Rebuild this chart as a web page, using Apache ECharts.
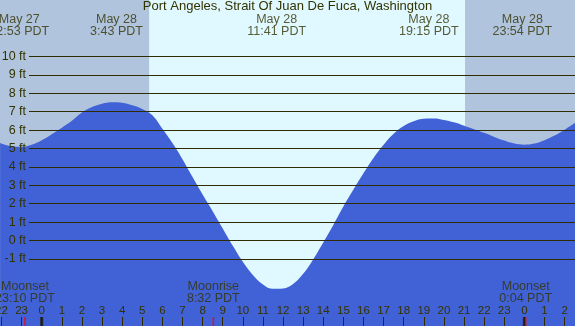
<!DOCTYPE html>
<html>
<head>
<meta charset="utf-8">
<script src="https://cdn.jsdelivr.net/npm/echarts@6/dist/echarts.min.js"></script>
<style>html,body{margin:0;padding:0;background:#b0c4de;}#c{width:575px;height:326px;}</style>
</head>
<body>
<div id="c"></div>
<script>
const tideHours = [-2.07, -1.5, -1.0, -0.5, 0, 0.5, 1.0, 1.5, 2.0, 2.5, 3.0, 3.5, 4.0, 4.5, 5.0, 5.5, 6.0, 6.5, 7.0, 7.5, 8.0, 8.5, 9.0, 9.5, 10.0, 10.5, 11.0, 11.5, 12.0, 12.5, 13.0, 13.5, 14.0, 14.5, 15.0, 15.5, 16.0, 16.5, 17.0, 17.5, 18.0, 18.5, 19.0, 19.5, 20.0, 20.5, 21.0, 21.5, 22.0, 22.5, 23.0, 23.5, 24.0, 24.5, 25.0, 25.5, 26.0, 26.52];
const tideFeet  = [5.30, 5.12, 5.09, 5.20, 5.45, 5.78, 6.13, 6.50, 6.95, 7.25, 7.43, 7.51, 7.49, 7.35, 7.15, 6.80, 6.07, 5.30, 4.42, 3.45, 2.50, 1.60, 0.66, -0.28, -1.15, -1.87, -2.38, -2.62, -2.60, -2.35, -1.80, -1.02, -0.10, 0.85, 1.85, 2.77, 3.65, 4.48, 5.20, 5.80, 6.22, 6.48, 6.62, 6.63, 6.55, 6.42, 6.24, 6.05, 5.85, 5.63, 5.43, 5.27, 5.21, 5.27, 5.45, 5.70, 6.02, 6.38];

const extremeHours  = [-1.117, 3.717, 11.683, 19.25, 23.9];
const extremeLabels = ['May 27\n22:53 PDT', 'May 28\n3:43 PDT', 'May 28\n11:41 PDT', 'May 28\n19:15 PDT', 'May 28\n23:54 PDT'];

const moonHours  = [-0.833, 8.533, 24.067];
const moonLabels = ['Moonset\n23:10 PDT', 'Moonrise\n8:32 PDT', 'Moonset\n0:04 PDT'];

const midnights = [0, 24];
const daylight = [5.34, 21.05];   // sunrise, sunset

const title = 'Port Angeles, Strait Of Juan De Fuca, Washington';

const FONT = "'Liberation Sans', Arial, sans-serif";
const TXT = '#333300';
const LINE = '#2e2c00';
const yMin = -4.636, yMax = 13.062;

const chart = echarts.init(document.getElementById('c'), null, {renderer: 'canvas'});
const G = {outerBoundsMode: 'none', containLabel: false};
const option = {
  animation: false,
  backgroundColor: '#b0c4de',
  title: {
    text: title, left: 'center', top: 0, padding: [0, 0, 0, 0],
    textStyle: {fontSize: 13, fontWeight: 'normal', color: TXT, fontFamily: FONT}
  },
  grid: [
    Object.assign({left: -18.6, right: -9.7, top: 0, bottom: 0}, G),
    Object.assign({left: 29, right: 0, top: 56.4, bottom: 67}, G),
    Object.assign({left: -18.6, right: -9.7, top: 25, height: 1}, G),
    Object.assign({left: -18.6, right: -9.7, top: 292, height: 1}, G)
  ],
  xAxis: [
    {gridIndex: 0, type: 'value', min: -3, max: 27, interval: 1, z: 5,
     axisLine: {show: false, onZero: false},
     axisTick: {inside: true, length: 9, lineStyle: {color: LINE, width: 1}},
     axisLabel: {inside: true, margin: 9, fontSize: 11.5, color: TXT, fontFamily: FONT,
                 formatter: v => String(((v % 24) + 24) % 24)},
     splitLine: {show: false}},
    {gridIndex: 1, type: 'value', min: 0, max: 1, show: false},
    {gridIndex: 2, type: 'value', min: -3, max: 27, show: false},
    {gridIndex: 3, type: 'value', min: -3, max: 27, show: false}
  ],
  yAxis: [
    {gridIndex: 0, type: 'value', min: yMin, max: yMax, show: false},
    {gridIndex: 1, type: 'value', min: -1, max: 10, interval: 1, z: 5,
     axisLine: {show: false, onZero: false}, axisTick: {show: false},
     axisLabel: {formatter: '{value} ft', margin: 3, fontSize: 12.5, color: TXT, fontFamily: FONT},
     splitLine: {show: true, lineStyle: {color: LINE, width: 1}}},
    {gridIndex: 2, type: 'value', min: 0, max: 1, show: false},
    {gridIndex: 3, type: 'value', min: 0, max: 1, show: false}
  ],
  series: [
    {
      type: 'line', xAxisIndex: 0, yAxisIndex: 0, z: 2,
      data: tideHours.map((h, i) => [h, tideFeet[i]]),
      smooth: 0.4, showSymbol: false, symbol: 'none',
      lineStyle: {width: 0},
      areaStyle: {color: '#4161d6', opacity: 1, origin: 'start'},
      markArea: {silent: true, itemStyle: {color: '#e0f8ff'},
                 data: [[{xAxis: daylight[0]}, {xAxis: daylight[1]}]]}
    },
    {
      type: 'scatter', xAxisIndex: 0, yAxisIndex: 0, z: 6, clip: false,
      data: midnights.map(h => [h, yMin]),
      symbol: 'rect', symbolSize: [3, 9], symbolOffset: [0, -4.5],
      itemStyle: {color: '#1a1a00'}
    },
    {
      type: 'scatter', xAxisIndex: 0, yAxisIndex: 0, z: 7, clip: false,
      data: moonHours.map(h => [h, yMin]),
      symbol: 'rect', symbolSize: [1.5, 9], symbolOffset: [0, -4.5],
      itemStyle: {color: '#ff0000'}
    },
    {
      type: 'scatter', xAxisIndex: 2, yAxisIndex: 2, z: 8, clip: false,
      data: extremeHours.map(h => [h, 0]),
      symbolSize: 1, itemStyle: {color: 'transparent'},
      label: {show: true, position: 'inside', formatter: p => extremeLabels[p.dataIndex],
              fontSize: 12.5, lineHeight: 12, color: TXT, fontFamily: FONT, align: 'center'}
    },
    {
      type: 'scatter', xAxisIndex: 3, yAxisIndex: 3, z: 8, clip: false,
      data: moonHours.map(h => [h, 0]),
      symbolSize: 1, itemStyle: {color: 'transparent'},
      label: {show: true, position: 'inside', formatter: p => moonLabels[p.dataIndex],
              fontSize: 12.5, lineHeight: 12, color: TXT, fontFamily: FONT, align: 'center'}
    }
  ]
};
chart.setOption(option);
</script>
</body>
</html>
